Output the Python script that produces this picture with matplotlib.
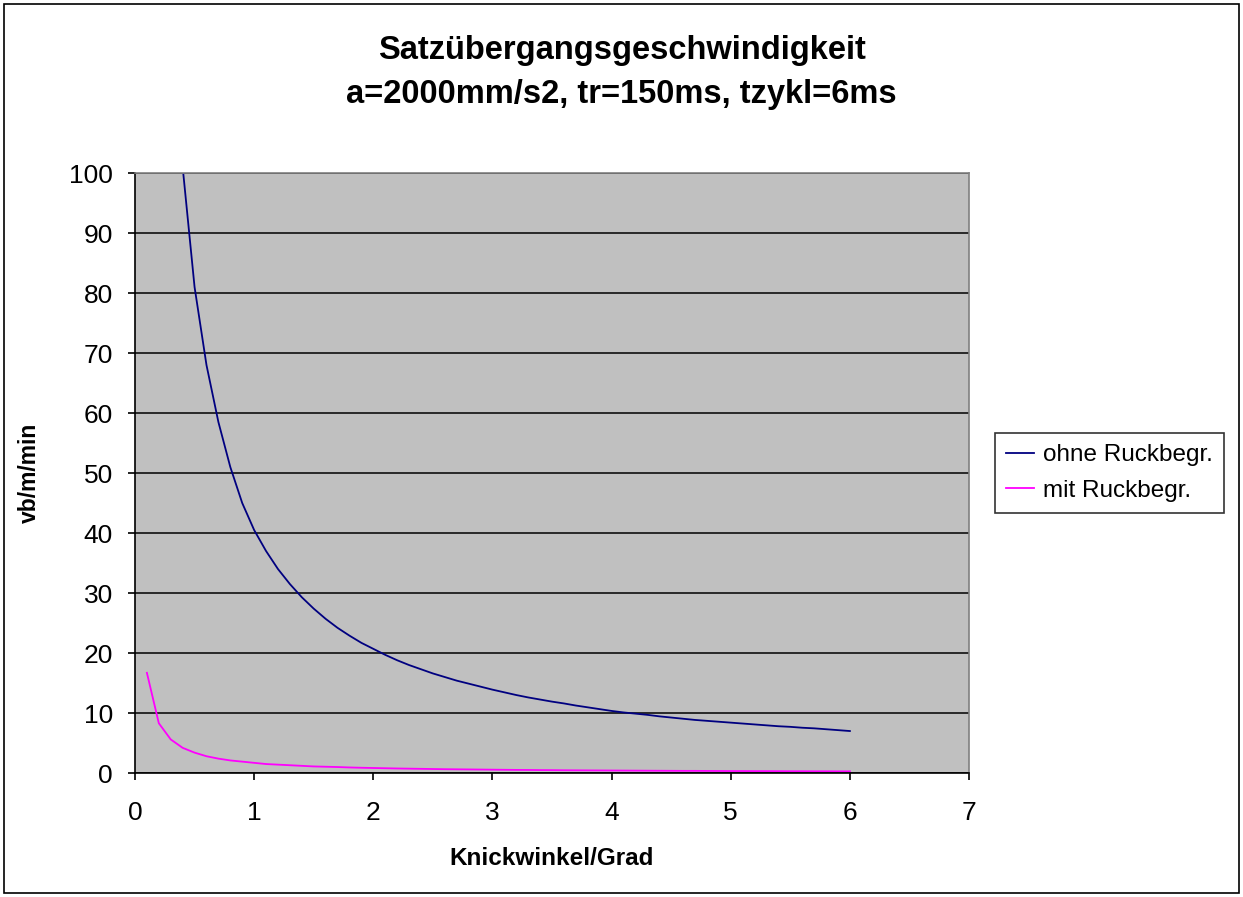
import matplotlib.pyplot as plt
from matplotlib.patches import Rectangle

plt.rcParams['font.family'] = ['Liberation Sans', 'DejaVu Sans']

# Knickwinkel in Grad
winkel = [0.1, 0.2, 0.3, 0.4, 0.5, 0.6, 0.7, 0.8, 0.9, 1.0,
          1.1, 1.2, 1.3, 1.4, 1.5, 1.6, 1.7, 1.8, 1.9, 2.0,
          2.1, 2.2, 2.3, 2.4, 2.5, 2.6, 2.7, 2.8, 2.9, 3.0,
          3.1, 3.2, 3.3, 3.4, 3.5, 3.6, 3.7, 3.8, 3.9, 4.0,
          4.1, 4.2, 4.3, 4.4, 4.5, 4.6, 4.7, 4.8, 4.9, 5.0,
          5.1, 5.2, 5.3, 5.4, 5.5, 5.6, 5.7, 5.8, 5.9, 6.0]

# vb ohne Ruckbegrenzung (m/min)
v_ohne = [405, 203, 135, 101, 81, 68, 58.5, 51, 45, 40.5,
          37, 34, 31.5, 29.3, 27.4, 25.7, 24.2, 22.9, 21.7, 20.7,
          19.7, 18.8, 18.0, 17.3, 16.6, 16.0, 15.4, 14.9, 14.4, 13.9,
          13.45, 13.0, 12.6, 12.25, 11.9, 11.6, 11.25, 10.95, 10.65, 10.35,
          10.1, 9.9, 9.7, 9.45, 9.25, 9.05, 8.85, 8.7, 8.55, 8.4,
          8.25, 8.1, 7.95, 7.8, 7.7, 7.55, 7.45, 7.3, 7.15, 7.0]

# vb mit Ruckbegrenzung (m/min)
v_mit = [16.7, 8.3, 5.6, 4.2, 3.4, 2.8, 2.4, 2.1, 1.9, 1.7,
         1.5, 1.4, 1.3, 1.2, 1.1, 1.05, 1.0, 0.93, 0.88, 0.84,
         0.8, 0.76, 0.73, 0.7, 0.67, 0.64, 0.62, 0.6, 0.58, 0.56,
         0.54, 0.52, 0.51, 0.49, 0.48, 0.46, 0.45, 0.44, 0.43, 0.42,
         0.41, 0.4, 0.39, 0.38, 0.37, 0.36, 0.36, 0.35, 0.34, 0.33,
         0.33, 0.32, 0.32, 0.31, 0.3, 0.3, 0.29, 0.29, 0.28, 0.28]

x_ticks = [0, 1, 2, 3, 4, 5, 6, 7]
y_ticks = [0, 10, 20, 30, 40, 50, 60, 70, 80, 90, 100]

fig = plt.figure(figsize=(12.43, 8.97), dpi=100)
fig.patches.append(Rectangle((0.003, 0.004), 0.994, 0.992, transform=fig.transFigure,
                             fill=False, edgecolor='black', linewidth=1.2))

ax = fig.add_axes([0.1086, 0.1382, 0.671, 0.6689])
ax.set_facecolor('#C0C0C0')

ax.plot(winkel, v_ohne, color='#000080', linewidth=1.3, label='ohne Ruckbegr.')
ax.plot(winkel, v_mit, color='#FF00FF', linewidth=1.3, label='mit Ruckbegr.')

ax.set_xlim(0, 7)
ax.set_ylim(0, 100)
ax.set_xticks(x_ticks)
ax.set_yticks(y_ticks)
ax.yaxis.grid(True, color='black', linewidth=1.1)
ax.set_axisbelow(True)

for s in ['left', 'bottom']:
    ax.spines[s].set_color('black')
    ax.spines[s].set_linewidth(1.2)
for s in ['top', 'right']:
    ax.spines[s].set_color('#808080')
    ax.spines[s].set_linewidth(1.2)

ax.tick_params(axis='both', direction='out', length=5, width=1.2, labelsize=19)
ax.tick_params(axis='y', pad=11)
ax.tick_params(axis='x', pad=15)

ax.set_xlabel('Knickwinkel/Grad', fontsize=17.5, fontweight='bold', labelpad=16)
ax.set_ylabel('vb/m/min', fontsize=16.5, fontweight='bold', labelpad=20)

fig.text(0.5, 0.919, 'Satzübergangsgeschwindigkeit\na=2000mm/s2, tr=150ms, tzykl=6ms',
         ha='center', va='center', fontsize=23.5, fontweight='bold', linespacing=1.52)

leg = fig.legend(loc='upper left', bbox_to_anchor=(0.8005, 0.517), fontsize=17.5,
                 frameon=True, fancybox=False, handlelength=1.15, handletextpad=0.37,
                 borderpad=0.45, labelspacing=0.55, borderaxespad=0)
leg.get_frame().set_edgecolor('black')
leg.get_frame().set_linewidth(1.2)

fig.savefig('out.png', dpi=100)
